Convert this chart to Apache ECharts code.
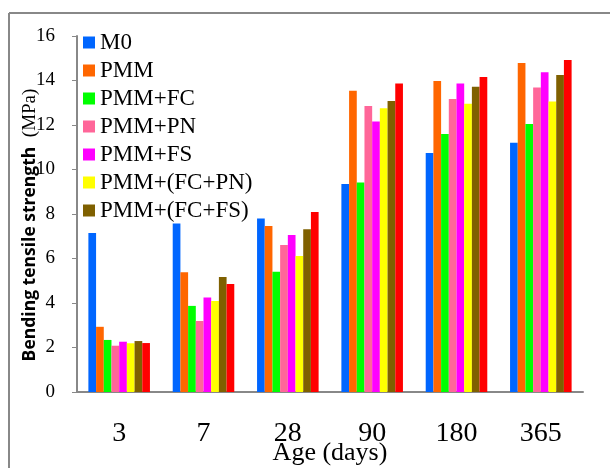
<!DOCTYPE html>
<html><head><meta charset="utf-8">
<script src="https://cdn.jsdelivr.net/npm/echarts@6/dist/echarts.min.js"></script>
<style>html,body{margin:0;padding:0;background:#fff}#c{width:610px;height:468px}</style>
</head><body><div id="c"></div>
<script>
var categories = ['3','7','28','90','180','365'];
var seriesNames = ['M0','PMM','PMM+FC','PMM+PN','PMM+FS','PMM+(FC+PN)','PMM+(FC+FS)',''];
var M0 = [7.15, 7.57, 7.80, 9.35, 10.74, 11.20];
var PMM = [2.93, 5.38, 7.46, 13.54, 13.98, 14.79];
var PMM_FC = [2.34, 3.87, 5.41, 9.42, 11.60, 12.04];
var PMM_PN = [2.08, 3.19, 6.61, 12.85, 13.17, 13.69];
var PMM_FS = [2.26, 4.25, 7.06, 12.16, 13.86, 14.37];
var PMM_FCPN = [2.19, 4.09, 6.11, 12.75, 12.96, 13.06];
var PMM_FCFS = [2.29, 5.17, 7.31, 13.08, 13.72, 14.25];
var RED = [2.20, 4.85, 8.09, 13.87, 14.16, 14.92];
var yTicks = [0, 2, 4, 6, 8, 10, 12, 14, 16];
var xTitle = 'Age (days)';
var colors = ['#0066ff','#ff6600','#00ff00','#ff6699','#ff00ff','#ffff00','#7f6000','#ff0000'];
var allData = [M0, PMM, PMM_FC, PMM_PN, PMM_FS, PMM_FCPN, PMM_FCFS, RED];

var chart = echarts.init(document.getElementById('c'));
var series = allData.map(function(d, i){
  return {
    name: seriesNames[i] || 'S8',
    type: 'bar',
    data: d,
    barGap: '0%',
    barCategoryGap: '27%',
    itemStyle: {color: colors[i]}
  };
});
chart.setOption({
  animation: false,
  grid: {left: 77, right: 27, top: 36, bottom: 76, containLabel: false, outerBoundsMode: 'none'},
  legend: {
    orient: 'vertical', left: 83, top: 31,
    data: seriesNames.slice(0,7),
    icon: 'rect', itemWidth: 12, itemHeight: 12, itemGap: 5,
    textStyle: {fontFamily: 'Liberation Serif', fontSize: 23, color: '#000', lineHeight: 20, padding: [0,0,0,0]},
    padding: 0
  },
  xAxis: {
    type: 'category', data: categories,
    axisLine: {lineStyle: {color: '#888', width: 2}},
    axisTick: {show: false},
    axisLabel: {color: '#000', fontFamily: 'Liberation Serif', fontSize: 28, margin: 28}
  },
  yAxis: {
    type: 'value', min: 0, max: 16, interval: 2,
    axisLine: {show: true, lineStyle: {color: '#888', width: 2}},
    axisTick: {show: true, length: 5, lineStyle: {color: '#888', width: 1}},
    splitLine: {show: false},
    axisLabel: {color: '#000', fontFamily: 'Liberation Serif', fontSize: 19, margin: 22,
      formatter: function(v){ return yTicks.indexOf(v) >= 0 ? String(v) : ''; }}
  },
  graphic: [
    {type: 'line', shape: {x1: 9, y1: 13, x2: 610, y2: 13}, style: {stroke: '#888', lineWidth: 2}},
    {type: 'line', shape: {x1: 9, y1: 13, x2: 9, y2: 468}, style: {stroke: '#888', lineWidth: 2}},
    {type: 'text', x: 330, y: 453,
      style: {text: xTitle, align: 'center', verticalAlign: 'middle',
        fontFamily: 'Liberation Serif', fontSize: 26, fill: '#000'}},
    {type: 'text', x: 30, y: 225, rotation: Math.PI/2,
      style: {text: '{b|Bending tensile strength}{s|  (MPa)}', align: 'center', verticalAlign: 'middle',
        rich: {b: {fontFamily: 'Open Sans', fontWeight: 'bold', fontSize: 17.5, fill: '#000'},
               s: {fontFamily: 'Liberation Serif', fontSize: 19, fill: '#000'}}}}
  ],
  series: series
});
</script></body></html>
